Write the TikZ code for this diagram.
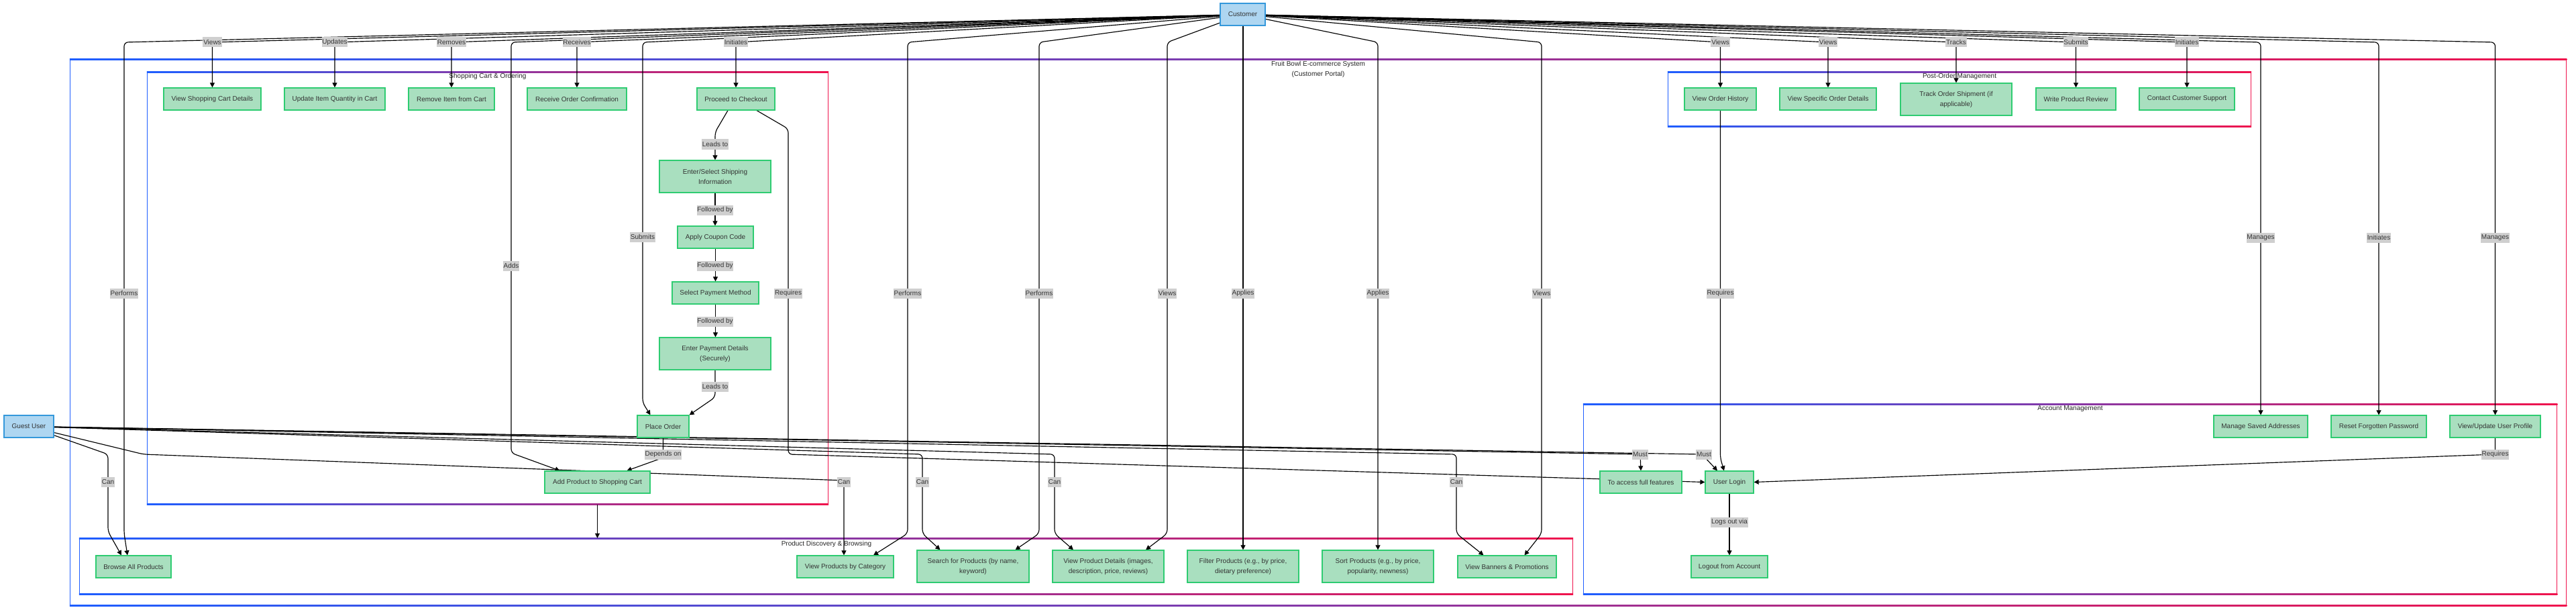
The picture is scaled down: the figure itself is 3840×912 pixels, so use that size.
\documentclass[tikz,border=0pt]{standalone}
\usepackage{fontspec}
\setmainfont{Liberation Sans}
\usetikzlibrary{arrows.meta}
\definecolor{nodefill}{HTML}{A9DFBF}
\definecolor{nodeline}{HTML}{2ECC71}
\definecolor{actfill}{HTML}{AED6F1}
\definecolor{actline}{HTML}{3498DB}
\definecolor{txt}{HTML}{333333}
\definecolor{lblbg}{HTML}{CFCFCF}
\definecolor{fblue}{HTML}{1E5EFF}
\definecolor{fred}{HTML}{F0134D}
\pgfdeclarelayer{bg}
\pgfdeclarelayer{edges}
\pgfsetlayers{bg,edges,main}
\newcommand\gframe[1]{%
 \shade[left color=fblue,right color=fred] (#1.north west) rectangle ([yshift=-1.4pt]#1.north east);
 \shade[left color=fblue,right color=fred] ([yshift=1.4pt]#1.south west) rectangle (#1.south east);
 \fill[fblue] (#1.north west) rectangle ([xshift=1.4pt]#1.south west);
 \fill[fred] ([xshift=-1.4pt]#1.north east) rectangle (#1.south east);}
\begin{document}
\begin{tikzpicture}[x=1pt,y=-1pt,
  wh/.style n args={2}{minimum width=#1pt,minimum height=#2pt},
  box/.style={draw=nodeline, fill=nodefill, line width=1.2pt, text=txt, font=\fontsize{10}{15}\selectfont, inner sep=0pt, align=center},
  actor/.style={box, draw=actline, fill=actfill},
  lbl/.style={fill=lblbg, text=txt, font=\fontsize{10}{15}\selectfont, inner xsep=0.8pt, inner ysep=0pt, minimum height=15pt},
  ctitle/.style={text=black!85, font=\fontsize{10}{15}\selectfont, inner sep=0pt, align=center},
  cluster/.style={draw=none, inner sep=0pt},
  edge/.style={draw=black, line width=1.15pt, rounded corners=6pt, -{Triangle[length=7pt,width=7pt]}},
]
\useasboundingbox (0,0) rectangle (3840,912);
\begin{pgfonlayer}{bg}
\fill[white] (0,0) rectangle (3840,912);
\node[cluster, wh={3722}{815}] (outer) at (1965,495.5) {};
\node[cluster, wh={1016}{645}] (cartbox) at (727,429.5) {};
\node[cluster, wh={870}{82}] (postbox) at (2921,148) {};
\node[cluster, wh={2227}{84}] (discbox) at (1231.5,844) {};
\node[cluster, wh={1452}{284}] (acctbox) at (3086,744) {};
\gframe{outer}
\gframe{cartbox}
\gframe{postbox}
\gframe{discbox}
\gframe{acctbox}
\node[ctitle] (tOuter) at (1965,103.5) {Fruit Bowl E-commerce System\\(Customer Portal)};
\node[ctitle] (tCart) at (727,114) {Shopping Cart \& Ordering};
\node[ctitle] (tPost) at (2921,114) {Post-Order Management};
\node[ctitle] (tDisc) at (1232,811) {Product Discovery \& Browsing};
\node[ctitle] (tAcct) at (3086,609) {Account Management};
\end{pgfonlayer}

% actors
\node[actor, wh={67}{33}] (cust) at (1852.5,21.5) {Customer};
\node[actor, wh={74}{33}] (guest) at (43,635.5) {Guest User};
% cart & ordering
\node[box, wh={145}{33}] (vcart) at (316.5,147.5) {View Shopping Cart Details};
\node[box, wh={150}{33}] (updqty) at (499,147.5) {Update Item Quantity in Cart};
\node[box, wh={128}{33}] (remitem) at (673,147.5) {Remove Item from Cart};
\node[box, wh={148}{33}] (rcvconf) at (860,147.5) {Receive Order Confirmation};
\node[box, wh={116}{33}] (checkout) at (1097,147.5) {Proceed to Checkout};
\node[box, wh={166}{48}] (shipping) at (1066,263) {Enter/Select Shipping\\Information};
\node[box, wh={113}{33}] (coupon) at (1066.5,353.5) {Apply Coupon Code};
\node[box, wh={129}{33}] (paymethod) at (1066.5,436.5) {Select Payment Method};
\node[box, wh={166}{48}] (paydetails) at (1066,527) {Enter Payment Details\\(Securely)};
\node[box, wh={77}{33}] (placeorder) at (988.5,635.5) {Place Order};
\node[box, wh={157}{33}] (addcart) at (890.5,718.5) {Add Product to Shopping Cart};
% post-order
\node[box, wh={107}{33}] (ohist) at (2564.5,147.5) {View Order History};
\node[box, wh={144}{33}] (odetail) at (2725,147.5) {View Specific Order Details};
\node[box, wh={166}{48}] (track) at (2916,148) {Track Order Shipment (if\\applicable)};
\node[box, wh={119}{33}] (review) at (3094.5,147.5) {Write Product Review};
\node[box, wh={142}{33}] (support) at (3260,147.5) {Contact Customer Support};
% discovery
\node[box, wh={112}{33}] (browse) at (199,844.5) {Browse All Products};
\node[box, wh={144}{33}] (category) at (1260,844.5) {View Products by Category};
\node[box, wh={167}{48}] (search) at (1450.5,844) {Search for Products (by name,\\keyword)};
\node[box, wh={166}{48}] (details) at (1652,844) {View Product Details (images,\\description, price, reviews)};
\node[box, wh={166}{48}] (filter) at (1853,844) {Filter Products (e.g., by price,\\dietary preference)};
\node[box, wh={166}{48}] (sort) at (2054,844) {Sort Products (e.g., by price,\\popularity, newness)};
\node[box, wh={147}{33}] (banners) at (2246.5,844.5) {View Banners \& Promotions};
% account
\node[box, wh={122}{33}] (fullfeat) at (2446,718.5) {To access full features};
\node[box, wh={72}{33}] (login) at (2578,718.5) {User Login};
\node[box, wh={114}{33}] (logout) at (2578,844.5) {Logout from Account};
\node[box, wh={140}{33}] (addresses) at (3370,635.5) {Manage Saved Addresses};
\node[box, wh={142}{33}] (resetpwd) at (3546,635.5) {Reset Forgotten Password};
\node[box, wh={135}{33}] (profile) at (3719.5,635.5) {View/Update User Profile};

\begin{pgfonlayer}{edges}
% customer edges
\draw[edge] (cust) -- (316.5,63) -- (vcart.north);
\draw[edge] (cust) -- (499,63) -- (updqty.north);
\draw[edge] (cust) -- (673,63) -- (remitem.north);
\draw[edge] (cust) -- (860,63) -- (rcvconf.north);
\draw[edge] (cust) -- (1097,63) -- (checkout.north);
\draw[edge] (cust) -- (185,63) -- (185,795) -- ([xshift=-9pt]browse.north);
\draw[edge] (cust) -- (762,63) -- (762,675) -- ([xshift=-56pt]addcart.north);
\draw[edge] (cust) -- (958,63) -- (958,600) -- ([xshift=-19pt]placeorder.north);
\draw[edge] (cust) -- (1353,63) -- (1353,795) -- ([xshift=42pt]category.north);
\draw[edge] (cust) -- (1549,63) -- (1549,795) -- ([xshift=63pt]search.north);
\draw[edge] (cust) -- (1740,63) -- (1740,795) -- ([xshift=56pt]details.north);
\draw[edge] (cust.south -| filter.north) -- (filter.north);
\draw[edge] (cust) -- (2054,63) -- (sort.north);
\draw[edge] (cust) -- (2298,63) -- (2298,795) -- ([xshift=26pt]banners.north);
\draw[edge] (cust) -- (2564.5,63) -- (ohist.north);
\draw[edge] (cust) -- (2725,63) -- (odetail.north);
\draw[edge] (cust) -- (2916,63) -- (track.north);
\draw[edge] (cust) -- (3094.5,63) -- (review.north);
\draw[edge] (cust) -- (3260,63) -- (support.north);
\draw[edge] (cust) -- (3370,63) -- (addresses.north);
\draw[edge] (cust) -- (3546,63) -- (resetpwd.north);
\draw[edge] (cust) -- (3719.5,63) -- (profile.north);
% checkout flow
\draw[edge] ([xshift=-12pt]checkout.south) -- (1066,197) -- (shipping.north);
\draw[edge] (shipping.south) -- (shipping.south |- coupon.north);
\draw[edge] (coupon.south) -- (coupon.south |- paymethod.north);
\draw[edge] (paymethod.south) -- (paymethod.south |- paydetails.north);
\draw[edge] (paydetails.south) -- (1066,592) -- (placeorder.north east);
\draw[edge] ([xshift=31pt]checkout.south) -- (1175,192) -- (1175,677) -- (login.west);
\draw[edge] (placeorder.south) -- (988.5,682) -- ([xshift=44pt]addcart.north);
\draw[edge] (ohist.south) -- (2564.5,683) -- ([xshift=-8pt]login.north);
\draw[edge] (profile.south) -- (3719.5,677) -- (login.east);
\draw[edge] (login.south) -- (logout.north);
% guest edges
\draw[edge] (guest) -- (161,677) -- (161,792) -- ([xshift=-18pt]browse.north);
\draw[edge] (guest) -- (214,677) -- (1258,716) -- ([xshift=-2pt]category.north);
\draw[edge] (guest) -- (1375,677) -- (1375,795) -- ([xshift=-49pt]search.north);
\draw[edge] (guest) -- (1572,677) -- (1572,795) -- ([xshift=-52pt]details.north);
\draw[edge] (guest) -- (2171,677) -- (2171,795) -- ([xshift=-35pt]banners.north);
\draw[edge] (guest) -- (2445,677) -- (fullfeat.north);
\draw[edge] (guest) -- (2537,677) -- ([xshift=-18pt]login.north);
% cluster to cluster
\draw[edge, line width=0.8pt] (addcart.south |- cartbox.south) -- (addcart.south |- discbox.north);
\end{pgfonlayer}

% edge labels
\node[lbl] (l1) at (316.5,63) {Views};
\node[lbl] (l2) at (499,63) {Updates};
\node[lbl] (l3) at (673,63) {Removes};
\node[lbl] (l4) at (860,63) {Receives};
\node[lbl] (l5) at (1097,63) {Initiates};
\node[lbl] (l6) at (185,437) {Performs};
\node[lbl] (l7) at (762,396) {Adds};
\node[lbl] (l8) at (958,353) {Submits};
\node[lbl] (l9) at (1353,437) {Performs};
\node[lbl] (l10) at (1549,437) {Performs};
\node[lbl] (l11) at (1740,437) {Views};
\node[lbl] (l12) at (1853,437) {Applies};
\node[lbl] (l13) at (2054,437) {Applies};
\node[lbl] (l14) at (2298,437) {Views};
\node[lbl] (l15) at (2564.5,63) {Views};
\node[lbl] (l16) at (2725,63) {Views};
\node[lbl] (l17) at (2916,63) {Tracks};
\node[lbl] (l18) at (3094.5,63) {Submits};
\node[lbl] (l19) at (3260,63) {Initiates};
\node[lbl] (l20) at (3370,354) {Manages};
\node[lbl] (l21) at (3546,354) {Initiates};
\node[lbl] (l22) at (3719.5,354) {Manages};
\node[lbl] (l23) at (1066,215) {Leads to};
\node[lbl] (l24) at (1066,313) {Followed by};
\node[lbl] (l25) at (1066,396) {Followed by};
\node[lbl] (l26) at (1066,479) {Followed by};
\node[lbl] (l27) at (1066,576) {Leads to};
\node[lbl] (l28) at (1175,437) {Requires};
\node[lbl] (l29) at (988.5,677) {Depends on};
\node[lbl] (l30) at (2564.5,437) {Requires};
\node[lbl] (l31) at (3719.5,677) {Requires};
\node[lbl] (l32) at (2578,778) {Logs out via};
\node[lbl] (l33) at (161,718) {Can};
\node[lbl] (l34) at (1258,718) {Can};
\node[lbl] (l35) at (1375,718) {Can};
\node[lbl] (l36) at (1572,718) {Can};
\node[lbl] (l37) at (2171,718) {Can};
\node[lbl] (l38) at (2445,677) {Must};
\node[lbl] (l39) at (2540,677) {Must};
\end{tikzpicture}
\end{document}
